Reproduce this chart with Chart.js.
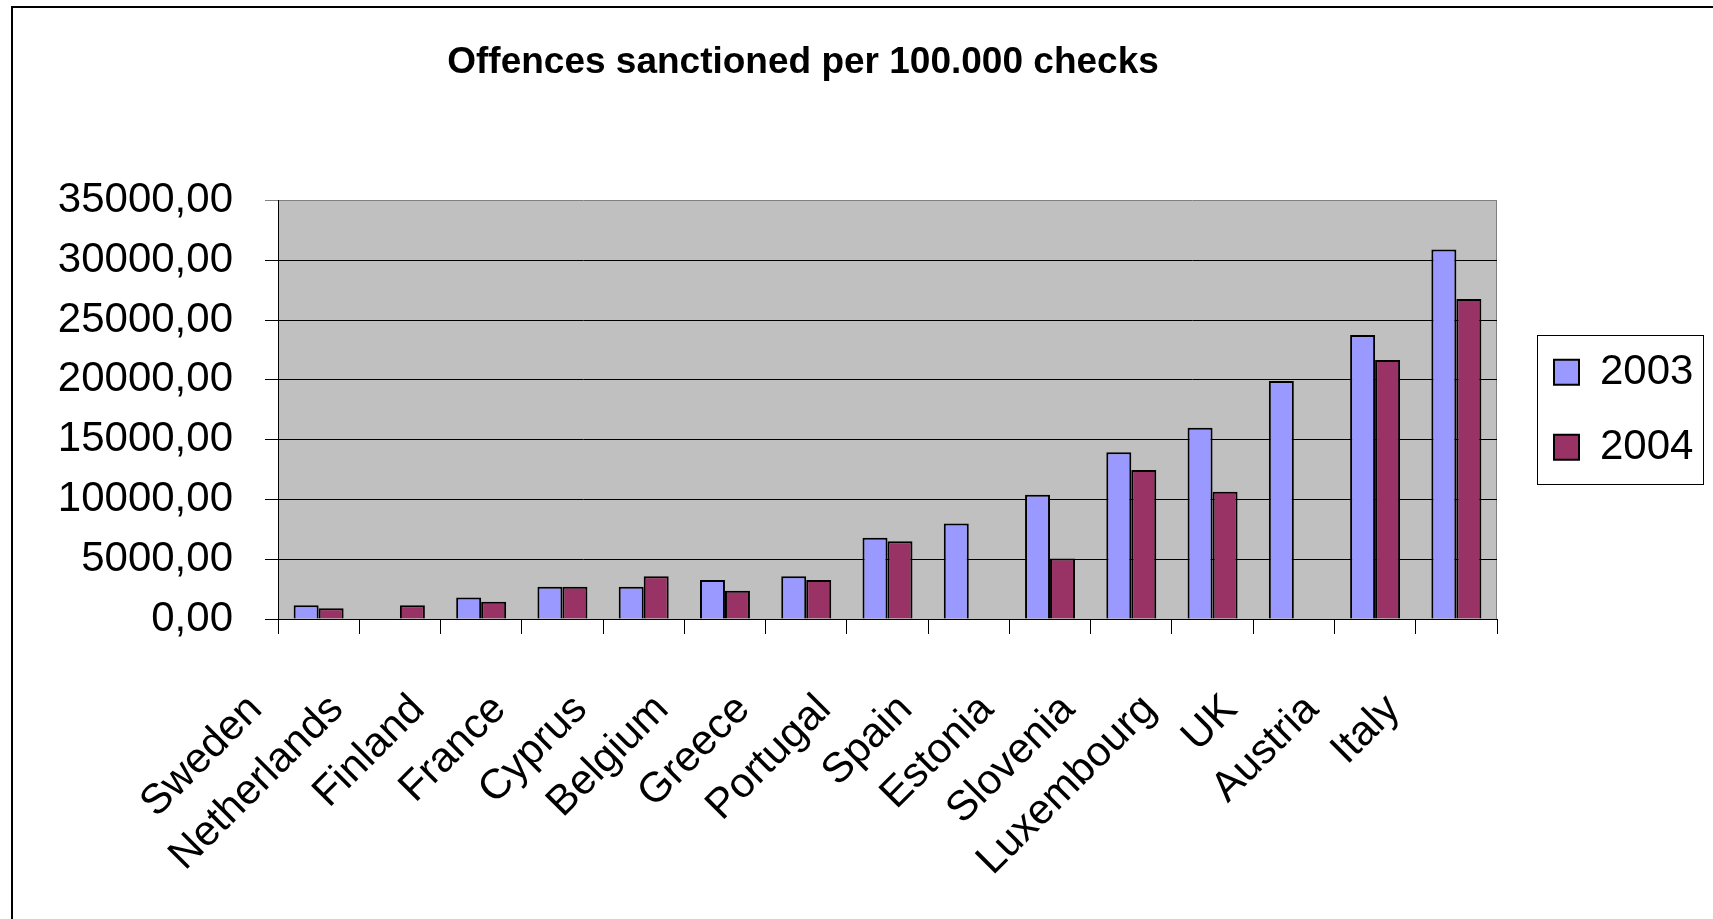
<!DOCTYPE html>
<html>
<head>
<meta charset="utf-8">
<title>Offences sanctioned per 100.000 checks</title>
<script src="https://cdn.jsdelivr.net/npm/chart.js@4/dist/chart.umd.min.js"></script>
<style>
  html, body { margin: 0; padding: 0; background: #fff; }
  canvas { display: block; }
</style>
</head>
<body>
<canvas id="offences" width="1713" height="919"></canvas>
<script>
const countries = [
  "Sweden", "Netherlands", "Finland", "France", "Cyprus", "Belgium", "Greece", "Portugal",
  "Spain", "Estonia", "Slovenia", "Luxembourg", "UK", "Austria", "Italy",
];
const years = ["2003", "2004"];
const values2003 = [1150, null, 1800, 2700, 2700, 3270, 3580, 6790, 7990, 10390, 13950, 16000, 19900, 23750, 30900];
const values2004 = [900, 1150, 1450, 2700, 3580, 2370, 3270, 6510, null, 5050, 12450, 10650, null, 21650, 26750];
const yMax = 35000;
const yStep = 5000;

const colors = ["#9999FF", "#993366"];

// layout constants (px)
const TITLE_CENTER = 803;
const LEGEND_WIDTH = 216;
const LEGEND_SHIFT = 24;

Chart.defaults.font.family = "'Liberation Sans', Arial, sans-serif";
Chart.defaults.color = "#000";

// white page, grey plot area, outer frame and legend box
const chartFrame = {
  id: "chartFrame",
  beforeLayout(chart) {
    const legend = chart.legend;
    if (legend && !legend._fixedFit) {
      const fit = legend.fit;
      legend.fit = function () {
        fit.call(this);
        this.width = LEGEND_WIDTH;
      };
      legend._fixedFit = true;
    }
  },
  afterLayout(chart) {
    const t = chart.titleBlock;
    const dx = TITLE_CENTER - (t.left + t.right) / 2;
    t.left += dx;
    t.right += dx;
    chart.legend.left += LEGEND_SHIFT;
  },
  beforeDraw(chart) {
    const { ctx, chartArea: a } = chart;
    ctx.save();
    ctx.fillStyle = "#fff";
    ctx.fillRect(0, 0, chart.width, chart.height);
    ctx.fillStyle = "#C0C0C0";
    ctx.fillRect(a.left, a.top, a.right - a.left, a.bottom - a.top);

    ctx.strokeStyle = "#000";
    ctx.lineWidth = 2;
    ctx.beginPath();
    ctx.moveTo(12, chart.height);
    ctx.lineTo(12, 7);
    ctx.lineTo(chart.width, 7);
    ctx.stroke();

    ctx.strokeStyle = "#808080";
    ctx.lineWidth = 1;
    ctx.beginPath();
    ctx.moveTo(a.right - 0.5, a.top);
    ctx.lineTo(a.right - 0.5, a.bottom);
    ctx.stroke();
    ctx.restore();
  },
  afterDraw(chart) {
    const boxes = chart.legend.legendHitBoxes;
    if (!boxes || !boxes.length) return;
    const first = boxes[0];
    const last = boxes[boxes.length - 1];
    const { ctx } = chart;
    ctx.save();
    ctx.strokeStyle = "#000";
    ctx.lineWidth = 1;
    const x0 = first.left - 17;
    const x1 = first.left + first.width + 10;
    const y0 = first.top - 16;
    const y1 = last.top + last.height + 16;
    ctx.strokeRect(Math.round(x0) + 0.5, Math.round(y0) + 0.5, Math.round(x1 - x0), Math.round(y1 - y0));
    ctx.restore();
  },
};

new Chart(document.getElementById("offences"), {
  type: "bar",
  data: {
    labels: countries,
    datasets: [
      {
        label: years[0],
        data: values2003,
        backgroundColor: colors[0],
        borderColor: "#000",
        borderWidth: 2,
        categoryPercentage: 0.615,
        barPercentage: 1,
      },
      {
        label: years[1],
        data: values2004,
        backgroundColor: colors[1],
        borderColor: "#000",
        borderWidth: 2,
        categoryPercentage: 0.615,
        barPercentage: 1,
      },
    ],
  },
  options: {
    responsive: false,
    animation: false,
    devicePixelRatio: 1,
    layout: { padding: 0 },
    scales: {
      x: {
        offset: true,
        grid: {
          offset: true,
          drawOnChartArea: false,
          tickLength: 15,
          color: "#000",
          tickColor: "#000",
        },
        border: { color: "#000", width: 1 },
        ticks: {
          autoSkip: false,
          minRotation: 45,
          maxRotation: 45,
          padding: 51,
          labelOffset: -63,
          color: "#000",
          font: { size: 42 },
        },
        afterFit(scale) {
          scale.height = 300;
        },
      },
      y: {
        min: 0,
        max: yMax,
        ticks: {
          stepSize: yStep,
          padding: 32,
          color: "#000",
          font: { size: 42 },
          callback: (v) => v.toFixed(2).replace(".", ","),
        },
        grid: {
          color: (c) => (c.tick && c.tick.value === yMax ? "#808080" : "#000"),
          tickColor: (c) => (c.tick && c.tick.value === yMax ? "#808080" : "#000"),
          tickLength: 13,
          lineWidth: 1,
        },
        border: { color: "#000", width: 1 },
        afterFit(scale) {
          scale.width = 278;
        },
      },
    },
    plugins: {
      title: {
        display: true,
        text: "Offences sanctioned per 100.000 checks",
        color: "#000",
        font: { size: 37, weight: "bold" },
        padding: { top: 41, bottom: 115 },
      },
      legend: {
        position: "right",
        fullSize: false,
        labels: {
          boxWidth: 25,
          boxHeight: 25,
          padding: 33,
          color: "#000",
          font: { size: 42 },
        },
      },
      tooltip: { enabled: false },
    },
  },
  plugins: [chartFrame],
});
</script>
</body>
</html>
